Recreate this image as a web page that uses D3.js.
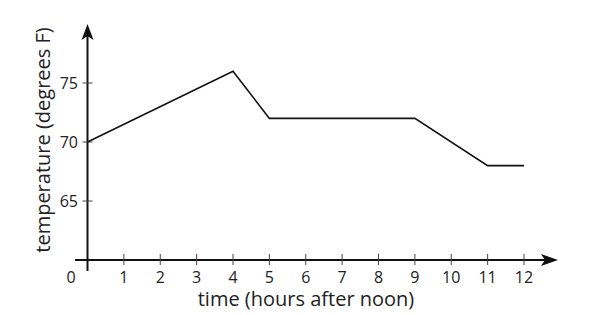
<!DOCTYPE html>
<html><head><meta charset="utf-8">
<script src="https://cdn.jsdelivr.net/npm/d3@7"></script>
<style>body{margin:0;background:#fff}svg{display:block}text{font-family:"Open Sans",sans-serif;fill:#222}</style>
</head><body><svg id="c" width="605" height="315"></svg>
<script>
const hours = [0, 4, 5, 9, 11, 12];
const temps = [70, 76, 72, 72, 68, 68];
const xTicks = [1,2,3,4,5,6,7,8,9,10,11,12];
const yTicks = [65, 70, 75];
const xTitle = "time (hours after noon)";
const yTitle = "temperature (degrees F)";

const svg = d3.select("#c");
const x = d3.scaleLinear().domain([0, 12]).range([87.5, 524]);
const y = d3.scaleLinear().domain([60, 75]).range([260, 83]);

const g = svg.append("g");
const X0 = x(0), Y0 = y(60);
// axes lines
g.append("line").attr("x1", 75).attr("x2", 548).attr("y1", Y0).attr("y2", Y0)
  .attr("stroke", "#111").attr("stroke-width", 2);
g.append("line").attr("x1", X0).attr("x2", X0).attr("y1", 271).attr("y2", 34)
  .attr("stroke", "#111").attr("stroke-width", 2);
// arrowheads
g.append("path").attr("d", `M${X0},24 L${X0+6},40 L${X0},36 L${X0-6},40 Z`).attr("fill", "#111");
g.append("path").attr("d", `M558,${Y0} L541,${Y0-6} L545,${Y0} L541,${Y0+6} Z`).attr("fill", "#111");

// x ticks
g.selectAll(".xt").data(xTicks).join("line")
  .attr("x1", d => x(d)).attr("x2", d => x(d)).attr("y1", Y0 - 6).attr("y2", Y0 + 5)
  .attr("stroke", "#444").attr("stroke-width", 1);
g.selectAll(".xl").data(xTicks).join("text")
  .attr("x", d => x(d)).attr("y", 283).attr("text-anchor", "middle")
  .attr("font-size", 16).text(d => d);
g.append("text").attr("x", 71).attr("y", 283).attr("text-anchor", "middle")
  .attr("font-size", 16).text("0");

// y ticks
g.selectAll(".yt").data(yTicks).join("line")
  .attr("x1", X0 - 5).attr("x2", X0 + 5).attr("y1", d => y(d)).attr("y2", d => y(d))
  .attr("stroke", "#444").attr("stroke-width", 1);
g.selectAll(".yl").data(yTicks).join("text")
  .attr("x", 78).attr("y", d => y(d) + 6).attr("text-anchor", "end")
  .attr("font-size", 16).text(d => d);

// titles
g.append("text").attr("x", 306).attr("y", 306).attr("text-anchor", "middle")
  .attr("font-size", 20).text(xTitle);
g.append("text").attr("transform", "translate(50,140) rotate(-90)").attr("text-anchor", "middle")
  .attr("font-size", 20).text(yTitle);

// data line
const line = d3.line().x((d, i) => x(hours[i])).y(d => y(d));
g.append("path").attr("d", line(temps)).attr("fill", "none").attr("stroke", "#111")
  .attr("stroke-width", 1.6);
</script></body></html>
